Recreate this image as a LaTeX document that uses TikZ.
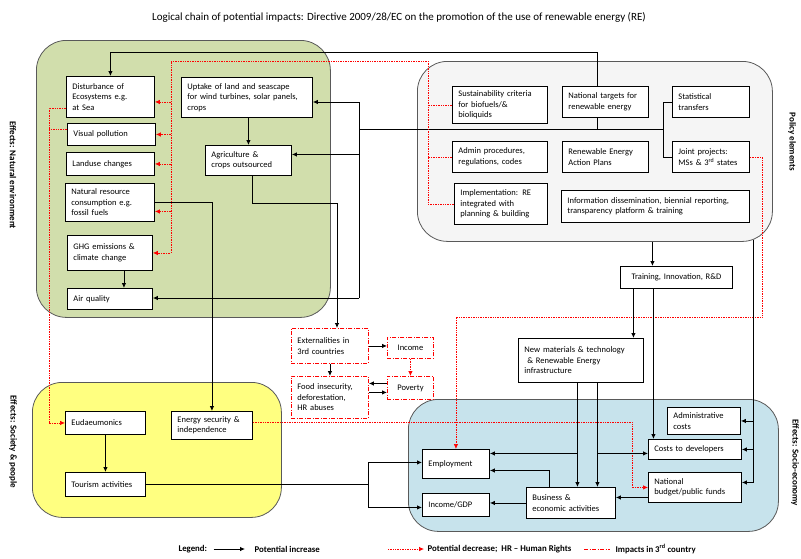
\documentclass[tikz,border=0pt]{standalone}
\usepackage{fontspec}
\setmainfont{Carlito}
\usepackage{tikz}
\usetikzlibrary{arrows.meta}

\definecolor{envgreen}{RGB}{209,222,172}
\definecolor{polgray}{RGB}{245,245,245}
\definecolor{socyellow}{RGB}{255,255,128}
\definecolor{ecoblue}{RGB}{199,227,236}

\begin{document}
\begin{tikzpicture}[x=1pt, y=-1pt,
    panel/.style={draw=black!65, line width=0.8pt, rounded corners=30pt, anchor=north west, inner sep=0pt},
    effect/.style={draw, fill=white, line width=0.9pt, anchor=north west, align=left, inner xsep=6pt, inner ysep=1pt, font=\fontsize{8.5}{10.5}\selectfont},
    extbox/.style={effect, draw=red, dash pattern=on 4pt off 1.5pt on 1pt off 1.5pt},
    sidelabel/.style={rotate=-90, font=\fontsize{9}{11}\selectfont\bfseries},
    legendtext/.style={anchor=west, font=\fontsize{8.8}{10}\selectfont\bfseries},
    link/.style={line width=0.8pt},
    inc/.style={link, -{Latex[length=5pt,width=4.5pt]}},
    decline/.style={red, densely dotted, line width=0.7pt},
    dec/.style={decline, -{Latex[length=5pt,width=4.5pt]}}]
    \useasboundingbox (0,0) rectangle (801,558);

    \node[font=\fontsize{11}{13}\selectfont] (title) at (399,17) {Logical chain of potential impacts: Directive 2009/28/EC on the promotion of the use of renewable energy (RE)};

    % panels
    \node[panel, fill=envgreen, minimum width=294pt, minimum height=277pt] (envpanel) at (36,40) {};
    \node[panel, fill=polgray, minimum width=355pt, minimum height=180pt] (polpanel) at (417,61) {};
    \node[panel, fill=socyellow, minimum width=249pt, minimum height=135pt] (socpanel) at (32,382) {};
    \node[panel, fill=ecoblue, minimum width=370pt, minimum height=132pt] (ecopanel) at (408,399) {};

    \node[sidelabel] (envlab) at (13,175) {Effects: Natural environment};
    \node[sidelabel] (pollab) at (792,142) {Policy elements};
    \node[sidelabel] (soclab) at (13,442) {Effects: Society \& people};
    \node[sidelabel] (ecolab) at (795,463) {Effects: Socio-economy};

    % natural environment
    \node[effect, text width=76pt, minimum height=41pt] (dist) at (66,76) {Disturbance of\\Ecosystems e.g.\\at Sea};
    \node[effect, text width=76pt, minimum height=22pt] (visual) at (67,123) {Visual pollution};
    \node[effect, text width=76pt, minimum height=23pt] (landuse) at (66,152) {Landuse changes};
    \node[effect, text width=77pt, minimum height=38pt] (natres) at (65,183) {Natural resource\\consumption e.g.\\fossil fuels};
    \node[effect, text width=73pt, minimum height=35pt] (ghg) at (67,235) {GHG emissions \&\\climate change};
    \node[effect, text width=73pt, minimum height=21pt] (air) at (67,288) {Air quality};
    \node[effect, text width=119pt, minimum height=40pt] (uptake) at (181,77) {Uptake of land and seascape\\for wind turbines, solar panels,\\crops};
    \node[effect, text width=74pt, minimum height=30pt] (agri) at (205,145) {Agriculture \&\\crops outsourced};

    % policy elements
    \node[effect, text width=83pt, minimum height=37pt] (sust) at (452,86) {Sustainability criteria\\for biofuels/\&\\bioliquids};
    \node[effect, text width=74pt, minimum height=31pt] (targets) at (562,86) {National targets for\\renewable energy};
    \node[effect, text width=65pt, minimum height=31pt] (stat) at (672,86) {Statistical\\transfers};
    \node[effect, text width=83pt, minimum height=31pt] (admin) at (452,141) {Admin procedures,\\regulations, codes};
    \node[effect, text width=74pt, minimum height=31pt] (reap) at (562,141) {Renewable Energy\\Action Plans};
    \node[effect, text width=65pt, minimum height=31pt] (joint) at (672,141) {Joint projects:\\MSs \& 3\textsuperscript{rd} states};
    \node[effect, text width=81pt, minimum height=41pt] (impl) at (454,183) {Implementation: RE\\integrated with\\planning \& building};
    \node[effect, text width=176pt, minimum height=32pt] (info) at (561,190) {Information dissemination, biennial reporting,\\transparency platform \& training};
    \node[effect, align=center, text width=100pt, minimum height=22pt] (train) at (620,266) {Training, Innovation, R\&D};

    % 3rd countries
    \node[extbox, text width=65pt, minimum height=35pt] (ext) at (291,328) {Externalities in\\3rd countries};
    \node[extbox, align=center, text width=34pt, minimum height=21pt] (income) at (387,337) {Income};
    \node[extbox, text width=65pt, minimum height=42pt] (food) at (291,376) {Food insecurity,\\deforestation,\\HR abuses};
    \node[extbox, align=center, text width=34pt, minimum height=23pt] (poverty) at (387,376) {Poverty};
    \node[effect, text width=113pt, minimum height=44pt] (newmat) at (518,338) {New materials \& technology\\\ \& Renewable Energy\\infrastructure};

    % society & people
    \node[effect, text width=68pt, minimum height=23pt] (eudae) at (65,411) {Eudaeumonics};
    \node[effect, text width=69pt, minimum height=28pt] (energy) at (171,411) {Energy security \&\\independence};
    \node[effect, text width=68pt, minimum height=24pt] (tourism) at (65,472) {Tourism activities};

    % socio-economy
    \node[effect, text width=61pt, minimum height=27pt] (admcost) at (667,407) {Administrative\\costs};
    \node[effect, text width=81pt, minimum height=20pt] (costdev) at (648,439) {Costs to developers};
    \node[effect, text width=81pt, minimum height=30pt] (budget) at (648,472) {National\\budget/public funds};
    \node[effect, text width=55pt, minimum height=29pt] (employ) at (422,449) {Employment};
    \node[effect, text width=55pt, minimum height=23pt] (gdp) at (422,493) {Income/GDP};
    \node[effect, text width=77pt, minimum height=31pt] (business) at (526,487) {Business \&\\economic activities};

    % policy bus to the environment
    \coordinate (busw) at (359,129);
    \coordinate (buse) at (663,129);
    \coordinate (busn) at (359,102);
    \coordinate (buss) at (359,298);
    \draw[inc] ([xshift=-8pt]targets.north) -- ++(0,-34) -| (dist.north);
    \draw[link] (stat.west) -- ++(-9,0) |- (joint.west);
    \draw[link] (buse) -- (busw);
    \draw[link] ([xshift=-8pt]targets.south) -- ([xshift=-8pt]targets.south |- buse);
    \draw[link] (busn) -- (buss);
    \draw[inc] (busn) -- (busn -| uptake.east);
    \draw[inc] ([yshift=6pt]agri.east -| busw) -- ([yshift=6pt]agri.east);
    \draw[inc] (buss) -- (buss -| air.east);
    \draw[inc] (agri.north |- uptake.south) -- (agri.north);
    \draw[inc] ([xshift=14pt]ghg.south) -- ([xshift=14pt]ghg.south |- air.north);
    \draw[inc] (natres.east) -| (energy.north);
    \coordinate (agrk) at (337,203);
    \draw[inc] ([xshift=4pt]agri.south) |- (agrk) -- (agrk |- ext.north);

    % potential decrease
    \coordinate (rb) at (428,61);
    \coordinate (rl) at (171,61);
    \draw[decline] (sust.west) -- (sust.west -| rb);
    \draw[decline] (admin.west) -- (admin.west -| rb);
    \draw[dec] (impl.west) -| (rb) -- (rl) |- (ghg.east);
    \draw[dec] ([yshift=-5pt]dist.east -| rl) -- ([yshift=-5pt]dist.east);
    \draw[dec] (visual.east -| rl) -- (visual.east);
    \draw[dec] (landuse.east -| rl) -- (landuse.east);
    \draw[dec] ([yshift=-9pt]natres.east -| rl) -- ([yshift=-9pt]natres.east);
    \coordinate (rv) at (49,0);
    \draw[decline] ([yshift=5pt]visual.west) -- ([yshift=5pt]visual.west -| rv);
    \draw[dec] ([yshift=-11pt]dist.west) -| (rv |- eudae.west) -- (eudae.west);
    \coordinate (rj) at (762,317);
    \draw[dec] (joint.east) -| (rj) -| (employ.north);
    \coordinate (re) at (632,0);
    \draw[dec] ([yshift=3pt]energy.east) -- ([yshift=3pt]energy.east -| re) |- (budget.west);

    % training and socio-economy
    \draw[inc] ([xshift=-24pt]train.north |- polpanel.south) -- ([xshift=-24pt]train.north);
    \draw[inc] ([xshift=-43pt]train.south) -- ([xshift=-43pt]train.south |- newmat.north);
    \draw[inc] ([xshift=-23pt]train.south) -- ([xshift=-23pt]train.south |- costdev.north);
    \coordinate (pb) at (753,240);
    \draw[inc] (pb) |- ([yshift=5pt]budget.east);
    \draw[inc] (pb |- admcost.east) -- (admcost.east);
    \draw[inc] (pb |- costdev.east) -- (costdev.east);
    \coordinate (dvr) at ([yshift=-4pt]costdev.west);
    \draw[inc] ([xshift=-3.5pt]newmat.south) -- ([xshift=-3.5pt]newmat.south |- business.north);
    \draw[inc] ([xshift=16.5pt]newmat.south) -- ([xshift=16.5pt]newmat.south |- business.north);
    \draw[inc] ([xshift=16.5pt]newmat.south |- dvr) -- (dvr);
    \draw[inc] ([xshift=-3.5pt]newmat.south |- dvr) -- (employ.east |- dvr);
    \draw[inc] ([xshift=-21.5pt]business.north) |- ([yshift=-6.5pt]employ.east);
    \draw[inc] (business.west) -- (business.west -| gdp.east);
    \draw[inc] ([yshift=-10pt]budget.west) -- ([yshift=-10pt]budget.west -| business.east);
    \coordinate (tj) at (368,0);
    \draw[link] (tourism.east) -- (tourism.east -| tj);
    \draw[inc] (tourism.east -| tj) |- ([yshift=1.5pt]employ.west);
    \draw[inc] (tourism.east -| tj) |- ([yshift=-2.5pt]gdp.west);
    \draw[inc] (eudae.south) -- (tourism.north);

    % 3rd countries
    \draw[inc] (ext.east) -- (ext.east -| income.west);
    \draw[inc] (ext.south) -- (food.north);
    \draw[dec] (income.south) -- (poverty.north);
    \draw[inc] ([yshift=4.5pt]poverty.west) -- ([yshift=4.5pt]poverty.west -| food.east);
    \draw[inc] ([yshift=-4.5pt]poverty.west -| food.east) -- ([yshift=-4.5pt]poverty.west);

    % legend
    \node[legendtext] (legend) at (175,549) {Legend:};
    \node[legendtext] (legInc) at (251,549) {Potential increase};
    \node[legendtext] (legDec) at (424,549) {Potential decrease;\ \ HR -- Human Rights};
    \node[legendtext] (legImp) at (612,549) {Impacts in 3\textsuperscript{rd} country};
    \draw[inc] ([xshift=3pt]legend.east) -- ([xshift=-6pt]legInc.west);
    \draw[dec] ([xshift=-36pt]legDec.west) -- (legDec.west);
    \draw[red, line width=0.7pt, dash pattern=on 4pt off 1.5pt on 1pt off 1.5pt] ([xshift=-28pt]legImp.west) -- ([xshift=-2pt]legImp.west);
\end{tikzpicture}
\end{document}
